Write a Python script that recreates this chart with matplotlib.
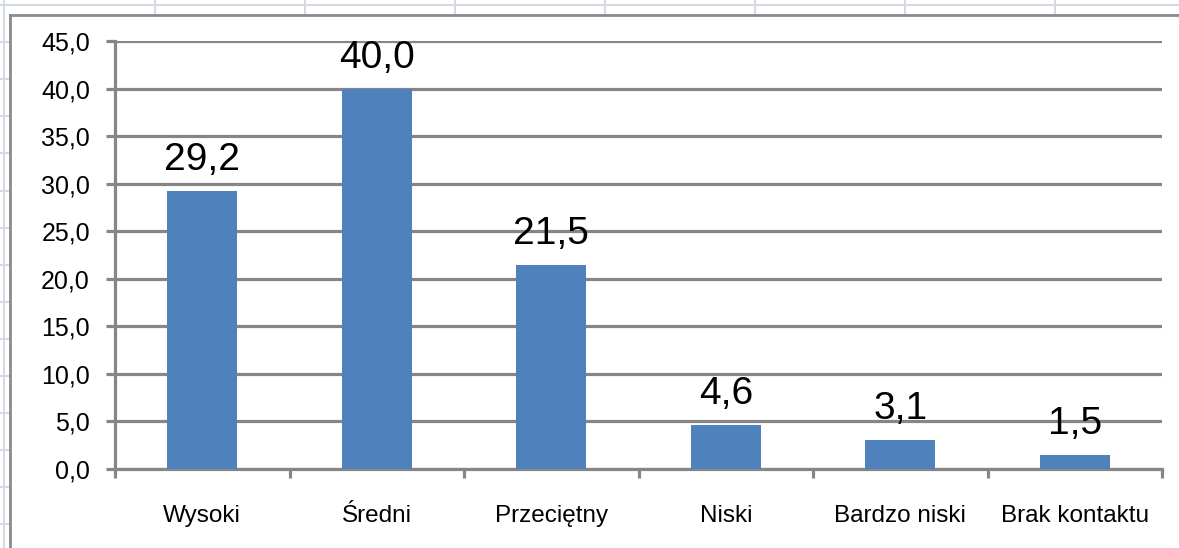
import numpy as np
import matplotlib.pyplot as plt
from matplotlib.lines import Line2D

# Values
categories = ["Wysoki", "Średni", "Przeciętny", "Niski", "Bardzo niski", "Brak kontaktu"]
values = [29.2, 40.0, 21.5, 4.6, 3.1, 1.5]
y_ticks = [0, 5, 10, 15, 20, 25, 30, 35, 40, 45]

W, H = 1179, 548
bar_color = "#4F81BD"
axis_gray = "#868686"

plt.rcParams["font.family"] = ["Liberation Sans", "DejaVu Sans"]

fig = plt.figure(figsize=(W / 100, H / 100), dpi=100)
fig.patch.set_facecolor("white")

# spreadsheet cell lines behind the embedded chart
cell = "#D3DAE6"
for x in [155, 305, 455, 605, 755, 905, 1055]:
    fig.add_artist(Line2D([x / W, x / W], [1, 1 - 15 / H], color=cell, lw=1.5))
fig.add_artist(Line2D([0, 1], [1 - 5 / H, 1 - 5 / H], color=cell, lw=1.5))
fig.add_artist(Line2D([4 / W, 4 / W], [0, 1], color=cell, lw=1.5))
for y in np.arange(5, H, 37.1):
    fig.add_artist(Line2D([0, 10 / W], [1 - y / H, 1 - y / H], color=cell, lw=1.5))

# chart frame (left and top edges are visible)
frame = "#8A8A8A"
fig.add_artist(Line2D([10 / W, 10 / W], [0, 1 - 15 / H], color=frame, lw=2))
fig.add_artist(Line2D([10 / W, 1], [1 - 15 / H, 1 - 15 / H], color=frame, lw=2))

ax = fig.add_axes([115 / W, 79 / H, (1162 - 115) / W, (469 - 41) / H])
x = np.arange(len(categories)) + 0.5
ax.bar(x, values, width=0.4, color=bar_color, zorder=3)

ax.set_xlim(0, len(categories))
ax.set_ylim(0, 45)
ax.set_yticks(y_ticks)
ax.set_yticklabels([("%.1f" % v).replace(".", ",") for v in y_ticks], fontsize=18)
ax.yaxis.grid(True, color=axis_gray, lw=2.3, zorder=0)
ax.set_axisbelow(True)

# category boundaries get the tick marks, labels sit under the centres
ax.set_xticks(np.arange(len(categories) + 1))
ax.set_xticklabels([])
for xi, name in zip(x, categories):
    ax.annotate(name, (xi, 0), xycoords=("data", "axes fraction"),
                xytext=(0, -38), textcoords="offset points",
                ha="center", va="baseline", fontsize=17.5)

ax.tick_params(axis="both", direction="out", length=6.5, width=2.3, color=axis_gray)
ax.tick_params(axis="y", pad=11.5)
for side in ["top", "right"]:
    ax.spines[side].set_visible(False)
for side in ["left", "bottom"]:
    ax.spines[side].set_color(axis_gray)
    ax.spines[side].set_linewidth(2.3)

# data labels above the bars
for xi, v in zip(x, values):
    ax.annotate(("%.1f" % v).replace(".", ","), (xi, v), xytext=(0, 15),
                textcoords="offset points", ha="center", va="baseline", fontsize=28)

fig.savefig("out.png", dpi=100)
